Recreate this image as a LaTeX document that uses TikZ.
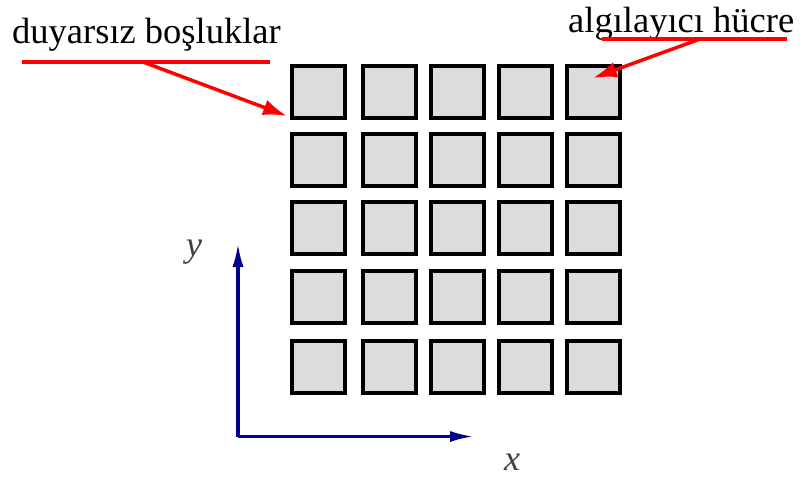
\documentclass[tikz,border=0pt]{standalone}
\usepackage{fontspec}
\setmainfont{Liberation Serif}
\usetikzlibrary{arrows.meta}
\definecolor{cellgray}{RGB}{220,220,220}
\definecolor{axisblue}{RGB}{0,0,140}
\begin{document}
\begin{tikzpicture}[x=1pt,y=-1pt,
  cell/.style={draw=black,line width=4pt,fill=cellgray,minimum width=53pt,minimum height=52pt,inner sep=0pt,anchor=north west},
  lbl/.style={font=\fontsize{36.5}{40}\selectfont,inner sep=0pt,anchor=base west},
  redline/.style={draw=red,line width=3.5pt},
  redarrow/.style={draw=red,line width=3.5pt,-{Latex[length=24pt,width=16pt]}},
  axis/.style={draw=axisblue,line width=3.2pt,-{Latex[length=24pt,width=11pt]}},
  axlbl/.style={font=\fontsize{36}{40}\selectfont\itshape,text=black!75,inner sep=0pt}]
\useasboundingbox (0,0) rectangle (802,482);
\foreach \c [count=\i] in {290.3,360.7,428.7,497.0,565.3}{
  \foreach \r [count=\j] in {64.0,132.0,200.0,268.7,338.7}{
    \node[cell] (c\i\j) at (\c,\r) {};
  }
}
\node[lbl] (dl) at (12,43) {duyarsız boşluklar};
\node[lbl] (al) at (568,32) {algılayıcı hücre};
\coordinate (l1) at (22,62);
\coordinate (l2) at (270,62);
\coordinate (la) at (143,62);
\coordinate (r1) at (602,39);
\coordinate (r2) at (787,39);
\coordinate (ra) at (700,39);
\draw[redline] (l1) -- (l2);
\draw[redline] (r1) -- (r2);
\draw[redarrow] (la) -- (287,116);
\draw[redarrow] (ra) -- (593,78);
\coordinate (o) at (238,436.5);
\coordinate (yend) at (238,243);
\coordinate (xend) at (474,436.5);
\draw[axis] (o) -- (yend);
\draw[axis] (o) -- (xend);
\node[axlbl] (yl) at (194,252) {y};
\node[axlbl] (xl) at (512,462) {x};
\end{tikzpicture}
\end{document}
